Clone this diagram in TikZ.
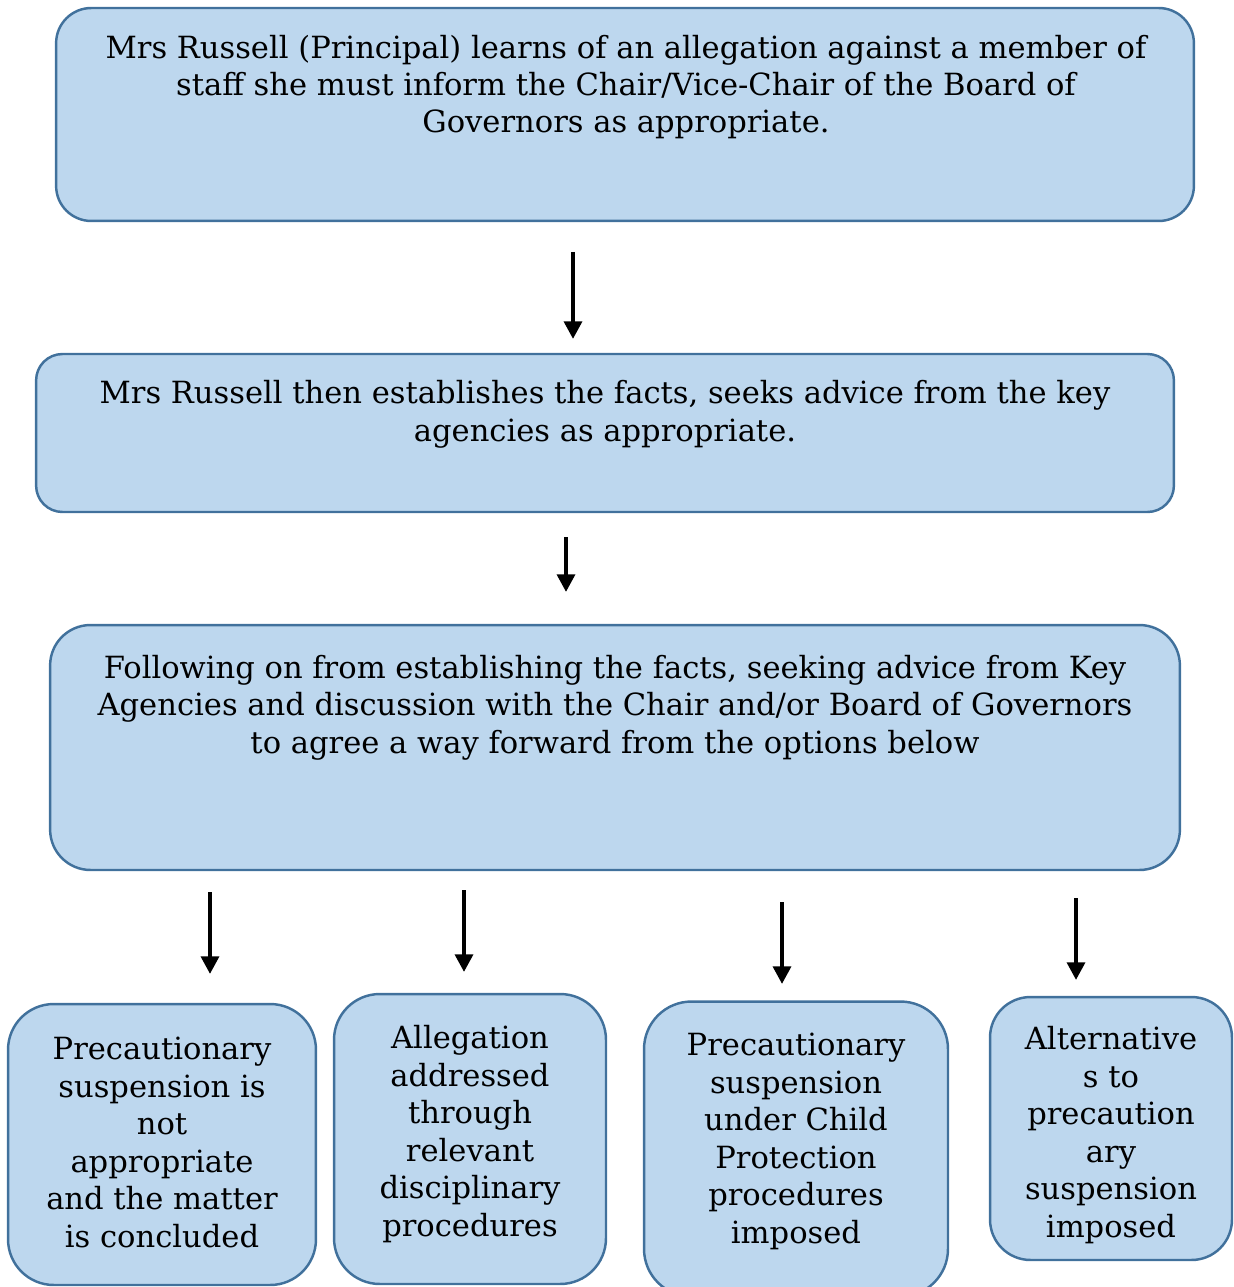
\documentclass[tikz,border=0pt]{standalone}
\usepackage{fontspec}
\setmainfont{DejaVu Serif}
\usetikzlibrary{arrows.meta}
\definecolor{boxfill}{RGB}{189,215,238}
\definecolor{boxline}{RGB}{65,113,156}
\begin{document}
\begin{tikzpicture}[x=0.02cm,y=-0.02cm,
  box/.style={draw=boxline, fill=boxfill, line width=1.4pt, inner sep=0pt},
  txt/.style={align=center, inner sep=0pt, anchor=base, font=\fontsize{17.4}{21.3}\selectfont},
  arr/.style={-{Triangle[length=10pt,width=10pt]}, line width=2.4pt, black}]
\useasboundingbox (0,0) rectangle (1233,1287);
% boxes
\node[box, rounded corners=20pt, minimum width=22.76cm, minimum height=4.26cm] (b1) at (625,114.5) {};
\node[box, rounded corners=15pt, minimum width=22.76cm, minimum height=3.16cm] (b2) at (605,433) {};
\node[box, rounded corners=23pt, minimum width=22.60cm, minimum height=4.90cm] (b3) at (615,747.5) {};
\node[box, rounded corners=26pt, minimum width=6.16cm, minimum height=5.62cm] (c1) at (162,1144.5) {};
\node[box, rounded corners=26pt, minimum width=5.44cm, minimum height=5.80cm] (c2) at (470,1139) {};
\node[box, rounded corners=27pt, minimum width=6.08cm, minimum height=5.90cm] (c3) at (796,1149) {};
\node[box, rounded corners=23pt, minimum width=4.84cm, minimum height=5.26cm] (c4) at (1111,1128.5) {};
% texts (anchored at the baseline of the last line)
\node[txt] (t1) at (626,133) {Mrs Russell (Principal) learns of an allegation against a member of\\staff she must inform the Chair/Vice-Chair of the Board of\\Governors as appropriate.};
\node[txt] (t2) at (605,441) {Mrs Russell then establishes the facts, seeks advice from the key\\agencies as appropriate.};
\node[txt] (t3) at (615,753) {Following on from establishing the facts, seeking advice from Key\\Agencies and discussion with the Chair and/or Board of Governors\\to agree a way forward from the options below};
\node[txt] (u1) at (162,1247) {Precautionary\\suspension is\\not\\appropriate\\and the matter\\is concluded};
\node[txt] (u2) at (470,1236) {Allegation\\addressed\\through\\relevant\\disciplinary\\procedures};
\node[txt] (u3) at (796,1243) {Precautionary\\suspension\\under Child\\Protection\\procedures\\imposed};
\node[txt] (u4) at (1111,1237) {Alternative\\s to\\precaution\\ary\\suspension\\imposed};
% arrow end points
\coordinate (a1s) at (573,252); \coordinate (a1e) at (573,339);
\coordinate (a2s) at (566,537); \coordinate (a2e) at (566,592);
\coordinate (a3s) at (210,892); \coordinate (a3e) at (210,974);
\coordinate (a4s) at (464,890); \coordinate (a4e) at (464,972);
\coordinate (a5s) at (782,902); \coordinate (a5e) at (782,984);
\coordinate (a6s) at (1076,898); \coordinate (a6e) at (1076,980);
\draw[arr] (a1s) -- (a1e);
\draw[arr] (a2s) -- (a2e);
\draw[arr] (a3s) -- (a3e);
\draw[arr] (a4s) -- (a4e);
\draw[arr] (a5s) -- (a5e);
\draw[arr] (a6s) -- (a6e);
\end{tikzpicture}
\end{document}
